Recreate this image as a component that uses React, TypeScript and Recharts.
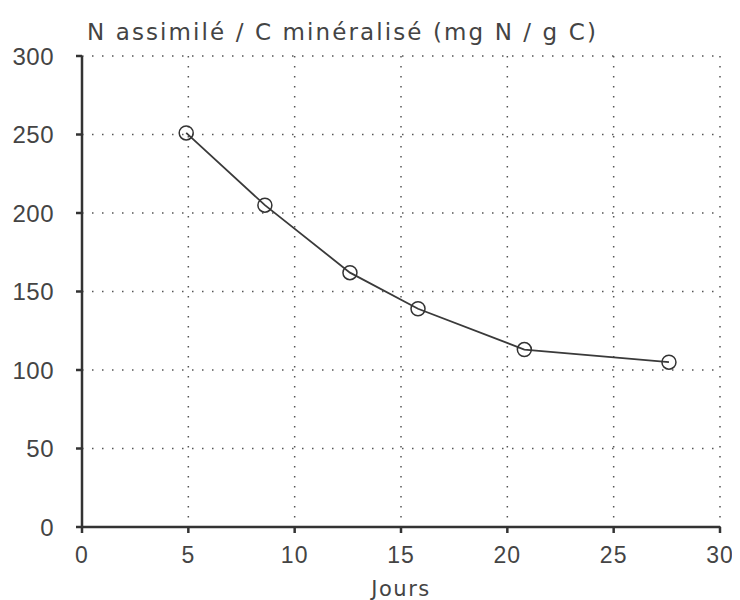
import React from 'react'
import { LineChart, Line, XAxis, YAxis, CartesianGrid } from 'recharts'

// Days of incubation and N assimilated / C mineralised (mg N / g C)
const days = [4.9, 8.6, 12.6, 15.8, 20.8, 27.6]
const ratio = [251, 205, 162, 139, 113, 105]
const xTicks = [0, 5, 10, 15, 20, 25, 30]
const yTicks = [0, 50, 100, 150, 200, 250, 300]
const title = 'N assimilé / C minéralisé (mg N / g C)'
const xLabel = 'Jours'

const data = days.map((d, i) => ({ d, v: ratio[i] }))

const FONT = '"DejaVu Sans", sans-serif'
const TICK_FONT = '"Liberation Sans", Arial, sans-serif'
const INK = '#444'

export default function App() {
  return (
    <div style={{ position: 'relative', width: 732, height: 592, background: '#fff', fontFamily: FONT }}>
      <div
        style={{
          position: 'absolute', left: 79, top: 11, fontSize: 23, color: INK,
          letterSpacing: 2.1, whiteSpace: 'nowrap',
        }}
      >
        {title}
      </div>
      <LineChart width={732} height={592} data={data} margin={{ top: 48, right: 20, bottom: 0, left: 0 }}>
        <CartesianGrid
          stroke="#555"
          strokeWidth={1.5}
          strokeDasharray="1.5 8.5"
          verticalValues={xTicks}
          horizontalValues={yTicks}
        />
        <XAxis
          dataKey="d"
          type="number"
          domain={[0, 30]}
          ticks={xTicks}
          height={73}
          stroke="#333"
          strokeWidth={2.5}
          tickSize={6}
          tickMargin={14}
          tick={{ fill: INK, fontSize: 23, fontFamily: TICK_FONT, letterSpacing: 1 }}
          label={{ value: xLabel, position: 'insideBottom', offset: 4, fill: INK, fontSize: 21, fontFamily: FONT, letterSpacing: 1.5 }}
        />
        <YAxis
          type="number"
          domain={[0, 300]}
          ticks={yTicks}
          width={74}
          stroke="#333"
          strokeWidth={2.5}
          tickSize={6}
          tickMargin={22}
          tick={{ fill: INK, fontSize: 24, fontFamily: TICK_FONT, letterSpacing: 0.5 }}
        />
        <Line
          dataKey="v"
          type="linear"
          stroke="#3a3a3a"
          strokeWidth={1.8}
          dot={{ r: 7, stroke: '#333', strokeWidth: 1.5, fill: 'none' }}
          isAnimationActive={false}
        />
      </LineChart>
    </div>
  )
}
